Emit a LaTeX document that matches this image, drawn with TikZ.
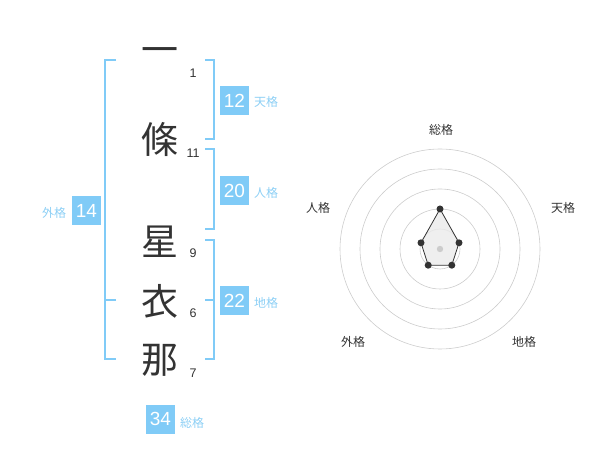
\documentclass[tikz,border=0pt]{standalone}
\usepackage{fontspec}
\setmainfont{Liberation Sans}
\newfontfamily\cjk{Noto Sans CJK JP}
\definecolor{kblue}{HTML}{80CBF7}
\definecolor{klabel}{HTML}{8CCFF5}
\definecolor{kdark}{HTML}{333333}
\definecolor{kring}{HTML}{CCCCCC}
\tikzset{
  kanji/.style={font=\cjk\fontsize{37}{37}\selectfont, text=kdark, inner sep=0pt},
  strokes/.style={font=\fontsize{12.5}{12.5}\selectfont, text=kdark, inner sep=0pt},
  bracket/.style={draw=kblue, line width=2pt},
  valbox/.style={fill=kblue, text=white, minimum width=29pt, minimum height=29pt, inner sep=0pt, font=\fontsize{19}{19}\selectfont},
  vallabel/.style={text=klabel, font=\cjk\fontsize{12}{12}\selectfont, inner sep=0pt},
  ring/.style={draw=kring, line width=0.6pt},
  axlabel/.style={text=kdark, font=\cjk\fontsize{12}{12}\selectfont, inner sep=0pt},
  dot/.style={circle, fill=kdark, minimum size=7pt, inner sep=0pt},
}
\begin{document}
\begin{tikzpicture}[x=1pt,y=-1pt]
\useasboundingbox (0,0) rectangle (600,470);
% kanji
\node[kanji] (k1) at (160,56) {一};
\node[kanji] (k2) at (160,139) {條};
\node[kanji] (k3) at (160,242) {星};
\node[kanji] (k4) at (160,301) {衣};
\node[kanji] (k5) at (160,360) {那};
% strokes
\node[strokes] (s1) at (193,73) {1};
\node[strokes] (s2) at (193,153) {11};
\node[strokes] (s3) at (193,253) {9};
\node[strokes] (s4) at (193,313) {6};
\node[strokes] (s5) at (193,373) {7};
% left bracket
\coordinate (la) at (116,60);
\coordinate (lb) at (116,359);
\coordinate (lm) at (116,300);
\draw[bracket] (la) -- (105,60) -- (105,359) -- (lb);
\draw[bracket] (lm) -- (105,300);
% right brackets
\coordinate (r1a) at (205,60);
\coordinate (r1b) at (205,139);
\draw[bracket] (r1a) -- (214,60) -- (214,139) -- (r1b);
\coordinate (r2a) at (205,149);
\coordinate (r2b) at (205,229);
\draw[bracket] (r2a) -- (214,149) -- (214,229) -- (r2b);
\coordinate (r3a) at (205,240);
\coordinate (r3b) at (205,359);
\coordinate (r3m) at (205,300);
\draw[bracket] (r3a) -- (214,240) -- (214,359) -- (r3b);
\draw[bracket] (r3m) -- (214,300);
% value boxes
\node[valbox] (v12) at (234.5,100.5) {12};
\node[vallabel] (l12) at (266,102) {天格};
\node[valbox] (v20) at (234.5,190.5) {20};
\node[vallabel] (l20) at (266,193) {人格};
\node[valbox] (v22) at (234.5,300.5) {22};
\node[vallabel] (l22) at (266,303) {地格};
\node[valbox] (v14) at (86.5,210.5) {14};
\node[vallabel] (l14) at (54,213) {外格};
\node[valbox] (v34) at (160.5,419) {34};
\node[vallabel] (l34) at (192,423) {総格};
% radar
\coordinate (c) at (440,249);
\foreach \r in {20,40,60,80,100} \draw[ring] (c) circle (\r);
\coordinate (p1) at (440,209);
\coordinate (p2) at (459,242.8);
\coordinate (p3) at (451.8,265.2);
\coordinate (p4) at (428.2,265.2);
\coordinate (p5) at (421,242.8);
\draw[kdark, line width=0.8pt, fill=black!8, fill opacity=0.8] (p1) -- (p2) -- (p3) -- (p4) -- (p5) -- cycle;
\fill[kring] (c) circle (3.2);
\foreach \p in {p1,p2,p3,p4,p5} \node[dot] at (\p) {};
\node[axlabel] (a1) at (441,130) {総格};
\node[axlabel] (a2) at (563,208) {天格};
\node[axlabel] (a3) at (524,342) {地格};
\node[axlabel] (a4) at (353,342) {外格};
\node[axlabel] (a5) at (318,208) {人格};
\end{tikzpicture}
\end{document}
